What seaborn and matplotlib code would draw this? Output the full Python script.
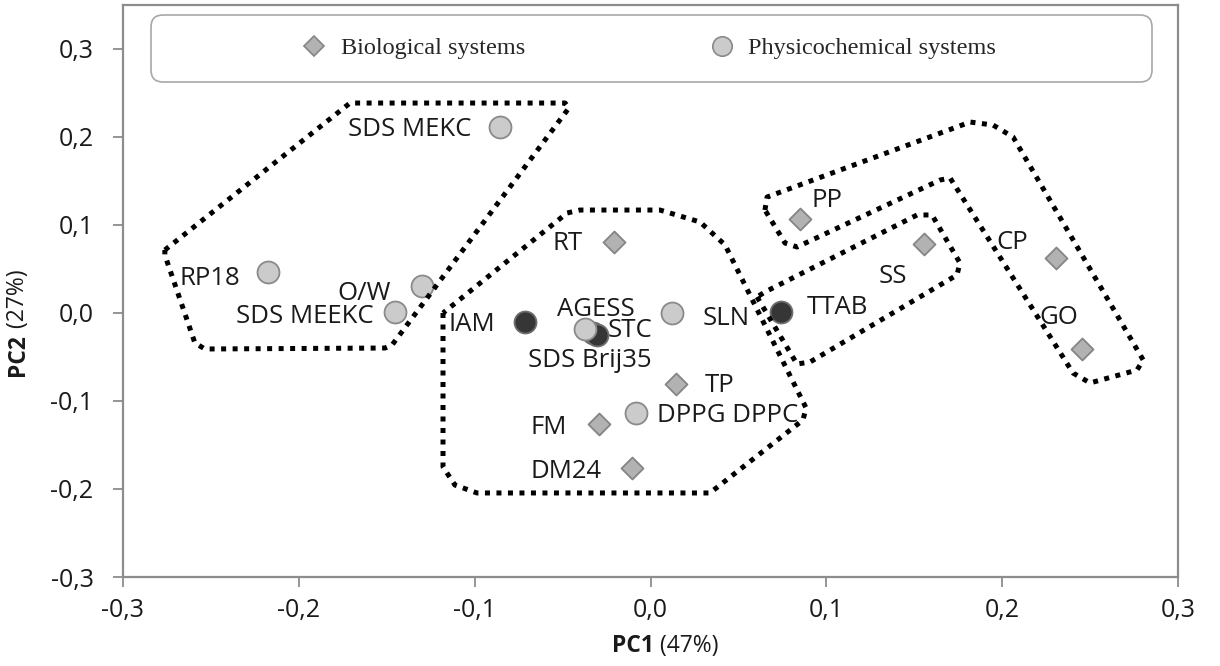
import matplotlib
matplotlib.use("Agg")
import matplotlib.pyplot as plt
from matplotlib.patches import FancyBboxPatch, Polygon
from matplotlib.lines import Line2D
from matplotlib.ticker import FuncFormatter, FixedLocator
import seaborn as sns
import pandas as pd

# ---- data -------------------------------------------------------------
names = ["SDS MEKC", "RP18", "O/W", "SDS MEEKC", "IAM", "STC", "SDS Brij35",
         "AGESS", "SLN", "TTAB", "DPPG DPPC",
         "RT", "TP", "FM", "DM24", "PP", "SS", "CP", "GO"]
pc1 = [-0.0856, -0.2176, -0.1300, -0.1453, -0.0714, -0.0327, -0.0304,
       -0.0373, 0.0122, 0.0742, -0.0082,
       -0.0208, 0.0145, -0.0293, -0.0105, 0.0850, 0.1556, 0.2307, 0.2455]
pc2 = [0.211, 0.0466, 0.031, 0.001, -0.010, -0.023, -0.025,
       -0.018, 0.000, 0.001, -0.1136,
       0.0807, -0.0807, -0.126, -0.176, 0.107, 0.078, 0.0625, -0.041]
system = ["Physicochemical"] * 11 + ["Biological"] * 8
# circles drawn in the dark shade
dark_points = ["IAM", "STC", "SDS Brij35", "TTAB"]

# dotted group outlines (PC1, PC2)
group_left = [(-0.2762, 0.0716), (-0.1709, 0.2386), (-0.0486, 0.2386), (-0.0464, 0.2330),
              (-0.1470, -0.0364), (-0.1510, -0.0398), (-0.2534, -0.0409),
              (-0.2591, -0.0341), (-0.2762, 0.0659)]
group_center = [(-0.1180, 0.0), (-0.1180, -0.175), (-0.1112, -0.1955), (-0.0987, -0.2045),
                (0.0338, -0.2045), (0.0867, -0.1216), (0.0885, -0.1080), (0.0424, 0.0773),
                (0.0282, 0.1034), (0.0054, 0.1170), (-0.0401, 0.1170), (-0.0475, 0.1136)]
group_ss = [(0.0606, 0.0182), (0.0833, -0.0580), (0.0907, -0.0557), (0.1743, 0.0432),
            (0.1760, 0.0568), (0.1601, 0.1114), (0.1516, 0.1114), (0.0651, 0.0239)]
group_ppcpgo = [(0.0651, 0.1170), (0.0663, 0.1318), (0.1818, 0.2170), (0.1948, 0.2136),
                (0.2062, 0.2000), (0.2802, -0.0534), (0.2767, -0.0648), (0.2500, -0.0795),
                (0.2403, -0.0682), (0.1704, 0.1534), (0.1647, 0.1511), (0.0833, 0.0750),
                (0.0765, 0.0795)]

ticks = [-0.3, -0.2, -0.1, 0.0, 0.1, 0.2, 0.3]

df = pd.DataFrame({"name": names, "PC1": pc1, "PC2": pc2, "system": system})
df["dark"] = df["name"].isin(dark_points)

# label placement: offset in pixels (right, up) of the cap-height centre,
# and horizontal alignment
label_pos = {
    "SDS MEKC": (-29, 0, "right"), "RP18": (-28, -4, "right"), "O/W": (-31, -5, "right"),
    "SDS MEEKC": (-21, -2, "right"), "IAM": (-30, 0, "right"), "AGESS": (11, 22, "center"),
    "STC": (15, 5, "left"), "SDS Brij35": (-7, -23, "center"), "SLN": (31, -3, "left"),
    "TTAB": (26, 7, "left"), "RT": (-31, 1, "right"), "TP": (29, 1, "left"),
    "DPPG DPPC": (21, 0, "left"), "FM": (-32, -1, "right"), "DM24": (-30, -1, "right"),
    "PP": (12, 21, "left"), "SS": (-17, -29, "right"), "CP": (-28, 18, "right"),
    "GO": (-4, 34, "right"),
}

# ---- style ------------------------------------------------------------
sns.set_theme(style="white")
plt.rcParams["font.family"] = ["Open Sans", "DejaVu Sans"]

DPI = 100
fig = plt.figure(figsize=(12.2, 6.66), dpi=DPI)
ax = fig.add_axes([123 / 1220, 1 - 577 / 666, 1055 / 1220, 572 / 666])

light_face, light_edge = "#cbcbcb", "#8a8a8a"
dark_face, dark_edge = "#363636", "#6e6e6e"
dia_face, dia_edge = "#b2b2b2", "#858585"
text_color = "#1a1a1a"

circ = df[df["system"] == "Physicochemical"]
bio = df[df["system"] == "Biological"]
sns.scatterplot(data=circ[circ["dark"]], x="PC1", y="PC2", ax=ax, marker="o", s=250,
                color=dark_face, edgecolor=dark_edge, linewidth=1.3, zorder=3, legend=False)
sns.scatterplot(data=circ[~circ["dark"]], x="PC1", y="PC2", ax=ax, marker="o", s=250,
                color=light_face, edgecolor=light_edge, linewidth=1.3, zorder=4, legend=False)
sns.scatterplot(data=bio, x="PC1", y="PC2", ax=ax, marker="D", s=125,
                color=dia_face, edgecolor=dia_edge, linewidth=1.3, zorder=4, legend=False)

px = 72 / DPI
label_size = 18.5
half_cap = 0.714 * label_size / 2  # points
for _, r in df.iterrows():
    dx, dy, ha = label_pos[r["name"]]
    ax.annotate(r["name"], (r["PC1"], r["PC2"]), xytext=(dx * px, dy * px - half_cap),
                textcoords="offset points", ha=ha, va="baseline", fontsize=label_size,
                color=text_color, zorder=6)

for shape in (group_left, group_center, group_ss, group_ppcpgo):
    ax.add_patch(Polygon(shape, closed=True, fill=False, edgecolor="black",
                         linewidth=3.6, linestyle=(0, (1, 1.3)), capstyle="butt",
                         joinstyle="round", zorder=5))

ax.set_xlim(-0.3, 0.3)
ax.set_ylim(-0.3, 0.35)
ax.xaxis.set_major_locator(FixedLocator(ticks))
ax.yaxis.set_major_locator(FixedLocator(ticks))
fmt = FuncFormatter(lambda v, _: f"{v:.1f}".replace(".", ",").replace("-0,0", "0,0"))
ax.xaxis.set_major_formatter(fmt)
ax.yaxis.set_major_formatter(fmt)
ax.tick_params(axis="both", direction="out", length=7.2, width=1.3, color="#8c8c8c",
               labelsize=18, labelcolor=text_color)
ax.tick_params(axis="x", bottom=True, pad=8)
ax.tick_params(axis="y", left=True, pad=14)
ax.set_xlabel("")
ax.set_ylabel("")
for sp in ax.spines.values():
    sp.set_color("#8c8c8c")
    sp.set_linewidth(1.6)

# axis titles: bold part followed by normal part
title_size = 16.5
t1 = fig.text(612 / 1220, 1 - 646 / 666, "PC1", weight="bold", ha="left", va="center",
              fontsize=title_size, color=text_color)
ax.annotate(" (47%)", xy=(1, 0), xycoords=t1, ha="left", va="bottom", fontsize=title_size,
            color=text_color, annotation_clip=False)
t2 = fig.text(18 / 1220, 1 - 376 / 666, "PC2", weight="bold", rotation=90, ha="center",
              va="bottom", fontsize=title_size, color=text_color)
ax.annotate(" (27%)", xy=(0, 1), xycoords=t2, rotation=90, ha="left", va="bottom",
            fontsize=title_size, color=text_color, annotation_clip=False)

# legend with rounded frame
frame = FancyBboxPatch((1.51, (666 - 82) / 100), 10.01, 0.67,
                       boxstyle="round,pad=0,rounding_size=0.12",
                       transform=fig.dpi_scale_trans, facecolor="white",
                       edgecolor="#a8a8a8", linewidth=1.2, zorder=2)
fig.add_artist(frame)
handles = [
    Line2D([], [], linestyle="none", marker="D", markersize=10, markerfacecolor=dia_face,
           markeredgecolor=dia_edge, markeredgewidth=1.2, label="Biological systems"),
    Line2D([], [], linestyle="none", marker="o", markersize=14, markerfacecolor=light_face,
           markeredgecolor=light_edge, markeredgewidth=1.2, label="Physicochemical systems"),
]
leg = fig.legend(handles=handles, loc="center", bbox_to_anchor=(649 / 1220, 1 - 48 / 666),
                 ncol=2, frameon=False, handlelength=1.0, handletextpad=0.6,
                 columnspacing=7.6, prop={"family": "Liberation Serif", "size": 17.5})
leg.set_zorder(6)

fig.savefig("out.png", dpi=DPI)
